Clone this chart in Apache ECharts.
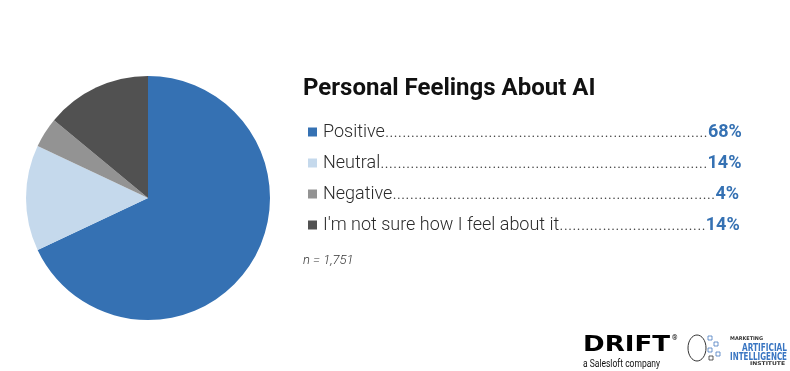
<!DOCTYPE html>
<html><head><meta charset="utf-8">
<script src="https://cdn.jsdelivr.net/npm/echarts@6/dist/echarts.min.js"></script>
<style>html,body{margin:0;padding:0;background:#fff}#c{width:790px;height:371px}</style>
</head><body><div id="c"></div>
<script>
const categories = ["Positive", "Neutral", "Negative", "I'm not sure how I feel about it"];
const values = [68, 14, 4, 14];
const colors = ["#3571B3", "#C5D9EC", "#939393", "#515151"];
const title = "Personal Feelings About AI";
const note = "n = 1,751";

const FONT = "Roboto, 'Noto Sans', sans-serif";
const ctx = document.createElement('canvas').getContext('2d');
function w(txt, font){ ctx.font = font; return ctx.measureText(txt).width; }
const nameFont = "300 18px Roboto";
const valFont = "bold 18px Roboto";
const lineW = 422;
function fmt(name){
  const i = categories.indexOf(name);
  const v = values[i] + '%';
  const avail = lineW - w(name, nameFont) - w(v, valFont) - 2;
  const n = Math.max(0, Math.floor(avail / w('.', nameFont)));
  const pad = avail - n * w('.', nameFont);
  return '{n|' + name + '}{d|' + '.'.repeat(n) + '}{v|' + v + '}';
}
// text stretched to a target width (logo lettering)
function fit(text, font, x, y, width, fill){
  const s = width / w(text, font);
  return {type: 'text', x: x, y: y, scaleX: s, style: {text: text, font: font, fill: fill, textVerticalAlign: 'middle'}};
}

const chart = echarts.init(document.getElementById('c'));
chart.setOption({
  animation: false,
  color: colors,
  title: {
    text: title, left: 298, top: 72,
    textStyle: {fontFamily: FONT, fontSize: 24, fontWeight: 'bold', color: '#111'}
  },
  legend: {
    orient: 'vertical', left: 303, top: 118,
    icon: 'rect', itemWidth: 9, itemHeight: 9, itemGap: 13,
    selectedMode: false,
    data: categories,
    formatter: fmt,
    textStyle: {
      padding: [0,0,0,1],
      rich: {
        n: {fontFamily: FONT, fontSize: 18, fontWeight: 300, color: '#2b2b2b'},
        d: {fontFamily: FONT, fontSize: 18, fontWeight: 300, color: '#444'},
        v: {fontFamily: FONT, fontSize: 18, fontWeight: 'bold', color: '#3571B3'}
      }
    }
  },
  series: [{
    type: 'pie',
    center: [148, 198],
    radius: [0, 122],
    startAngle: 90,
    clockwise: true,
    label: {show: false},
    labelLine: {show: false},
    itemStyle: {borderWidth: 0},
    emphasis: {disabled: true},
    data: categories.map((c, i) => ({name: c, value: values[i]}))
  }],
  graphic: [
    {type: 'text', left: 303, top: 254, style: {text: note, font: "italic 300 13px Roboto", fill: '#333'}},
    fit('DRIFT', "bold 21px 'DejaVu Sans'", 583, 346, 87, '#000'),
    {type: 'text', left: 672, top: 335, style: {text: '®', font: "7px Roboto", fill: '#000'}},
    fit('a Salesloft company', "10px Roboto", 583, 364, 77, '#111'),
    {type: 'ellipse', shape: {cx: 697, cy: 348, rx: 9, ry: 13}, style: {fill: 'none', stroke: '#333', lineWidth: 1}},
    {type: 'rect', shape: {x: 708, y: 336, width: 4, height: 4}, style: {fill: 'none', stroke: '#4a7bc0', lineWidth: 0.8}},
    {type: 'rect', shape: {x: 714, y: 342, width: 4, height: 4}, style: {fill: 'none', stroke: '#4a7bc0', lineWidth: 0.8}},
    {type: 'rect', shape: {x: 708, y: 348, width: 4, height: 4}, style: {fill: 'none', stroke: '#4a7bc0', lineWidth: 0.8}},
    {type: 'rect', shape: {x: 716, y: 352, width: 4, height: 4}, style: {fill: 'none', stroke: '#4a7bc0', lineWidth: 0.8}},
    {type: 'rect', shape: {x: 709, y: 356, width: 4, height: 4}, style: {fill: 'none', stroke: '#333', lineWidth: 0.8}},
    fit('MARKETING', "bold 5px 'DejaVu Sans'", 730, 339, 33, '#333'),
    fit('ARTIFICIAL', "bold 11px 'Liberation Sans Narrow', 'DejaVu Sans Condensed'", 742, 348, 45, '#3a76c2'),
    fit('INTELLIGENCE', "bold 11px 'Liberation Sans Narrow', 'DejaVu Sans Condensed'", 730, 357, 57, '#3a76c2'),
    fit('INSTITUTE', "bold 5px 'DejaVu Sans'", 750, 364, 35, '#333')
  ]
});
</script></body></html>
